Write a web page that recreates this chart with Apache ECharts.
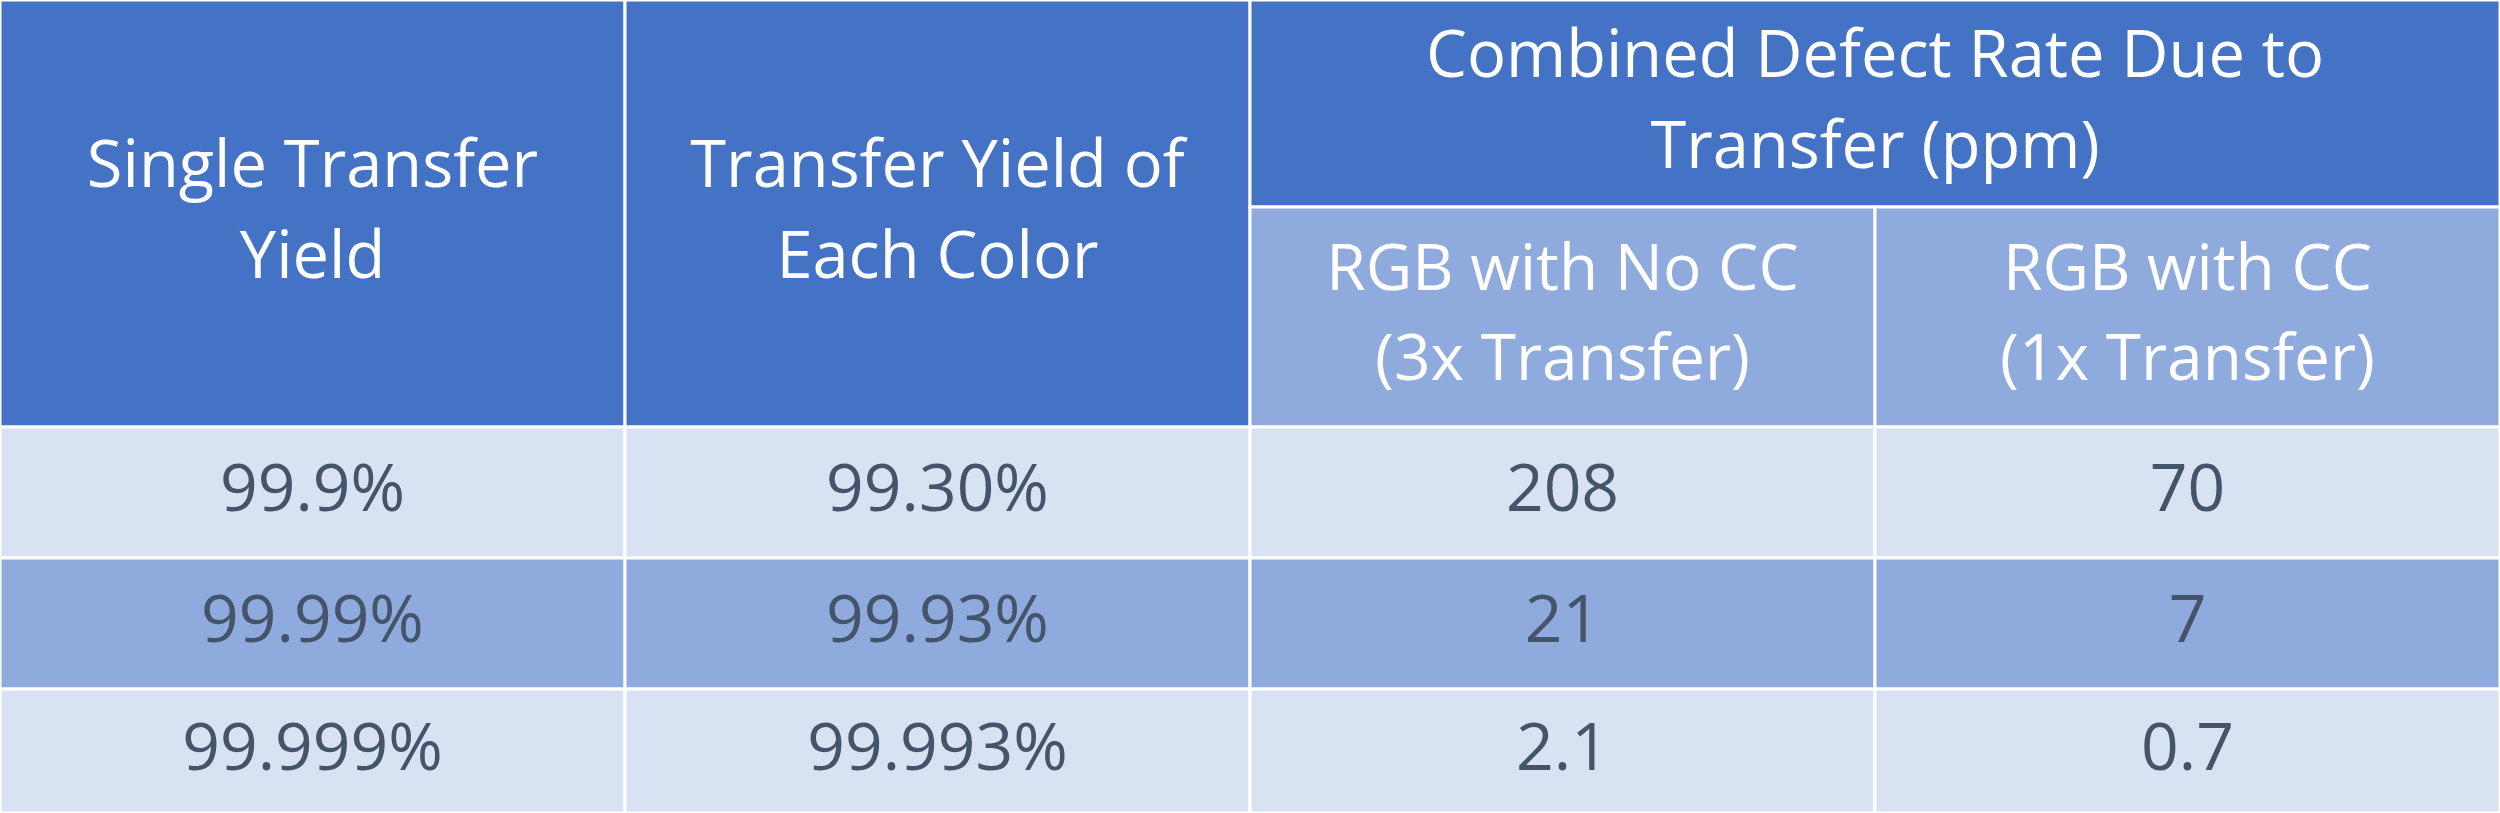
<!DOCTYPE html>
<html>
<head>
<meta charset="utf-8">
<script src="https://cdn.jsdelivr.net/npm/echarts@6/dist/echarts.min.js"></script>
<style>
  html, body { margin: 0; padding: 0; background: #fff; }
  #chart { width: 2500px; height: 813px; }
</style>
</head>
<body>
<div id="chart"></div>
<script>
// table content
const headers = ['Single Transfer\nYield', 'Transfer Yield of\nEach Color', 'Combined Defect Rate Due to\nTransfer (ppm)'];
const subHeaders = ['RGB with No CC\n(3x Transfer)', 'RGB with CC\n(1x Transfer)'];
const singleYield = ['99.9%', '99.99%', '99.999%'];
const colorYield = ['99.30%', '99.93%', '99.993%'];
const defectNoCC = ['208', '21', '2.1'];
const defectCC = ['70', '7', '0.7'];

// layout: column edges in column units, row edges in pixel units
const colEdges = [0, 1, 2, 3, 4];
const rowEdges = [0, 207, 427, 558, 689, 813];

const DARK = '#4472C4', MID = '#8FAADC', LIGHT = '#D9E2F3';
const cells = [];
// [c0, c1, r0, r1, text, fill, textColor, fontSize]
cells.push([0, 1, 0, 2, headers[0], DARK, '#fff', 65]);
cells.push([1, 2, 0, 2, headers[1], DARK, '#fff', 65]);
cells.push([2, 4, 0, 1, headers[2], DARK, '#fff', 65]);
cells.push([2, 3, 1, 2, subHeaders[0], MID, '#fff', 64]);
cells.push([3, 4, 1, 2, subHeaders[1], MID, '#fff', 64]);
const bodyCols = [singleYield, colorYield, defectNoCC, defectCC];
for (let r = 0; r < 3; r++) {
  const fill = r === 1 ? MID : LIGHT;
  bodyCols.forEach((col, c) => {
    cells.push([c, c + 1, 2 + r, 3 + r, col[r], fill, '#44546A', 66]);
  });
}
const data = cells.map(d => [colEdges[d[0]], colEdges[d[1]], rowEdges[d[2]], rowEdges[d[3]], d[4], d[5], d[6], d[7]]);

const chart = echarts.init(document.getElementById('chart'));
chart.setOption({
  animation: false,
  grid: { left: 0, right: 0, top: 0, bottom: 0 },
  xAxis: { type: 'value', min: 0, max: 4, show: false },
  yAxis: { type: 'value', min: 0, max: 813, inverse: true, show: false },
  series: [{
    type: 'custom',
    data: data,
    renderItem(params, api) {
      const p0 = api.coord([api.value(0), api.value(2)]);
      const p1 = api.coord([api.value(1), api.value(3)]);
      const d = data[params.dataIndex];
      return {
        type: 'rect',
        shape: { x: p0[0], y: p0[1], width: p1[0] - p0[0], height: p1[1] - p0[1] },
        style: { fill: d[5], stroke: '#fff', lineWidth: 3 },
        textContent: {
          style: {
            text: d[4], fill: d[6], fontSize: d[7], lineHeight: Math.round(d[7] * 1.4),
            fontFamily: 'Open Sans', align: 'center', verticalAlign: 'middle'
          }
        },
        textConfig: { position: 'inside' }
      };
    }
  }]
});
</script>
</body>
</html>
